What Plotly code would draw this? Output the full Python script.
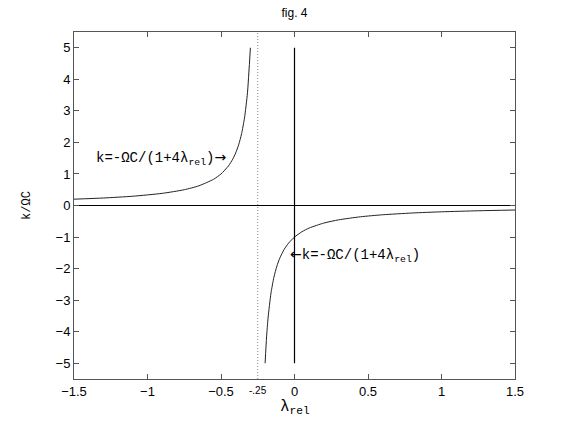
import plotly.graph_objects as go

# left branch (lambda < -0.25)
lam_left = [-1.5, -1.3, -1.1, -0.9, -0.75, -0.65, -0.55, -0.5, -0.45, -0.42, -0.4, -0.38, -0.36, -0.34, -0.32, -0.3]
k_left = [0.2, 0.238, 0.294, 0.385, 0.5, 0.625, 0.833, 1.0, 1.25, 1.47, 1.667, 1.923, 2.273, 2.778, 3.571, 5.0]
# right branch (lambda > -0.25)
lam_right = [-0.2, -0.19, -0.18, -0.16, -0.14, -0.12, -0.1, -0.07, -0.04, 0.0, 0.05, 0.1, 0.2, 0.3, 0.45, 0.6, 0.8, 1.0, 1.25, 1.5]
k_right = [-5.0, -4.167, -3.571, -2.778, -2.273, -1.923, -1.667, -1.389, -1.19, -1.0, -0.833, -0.714, -0.556, -0.455, -0.357, -0.294, -0.238, -0.2, -0.167, -0.143]

# reference lines
zero_x = [-1.5, 1.5]
zero_y = [0, 0]
vert_x = [0, 0]
vert_y = [-5, 5]
asym_x = [-0.25, -0.25]
asym_y = [-5.5, 5.5]

x_ticks = [-1.5, -1, -0.5, 0, 0.5, 1, 1.5]
x_ticktext = ["\u22121.5", "\u22121", "\u22120.5", "0", "0.5", "1", "1.5"]
y_ticks = [-5, -4, -3, -2, -1, 0, 1, 2, 3, 4, 5]
y_ticktext = [("\u2212" + str(-v)) if v < 0 else str(v) for v in y_ticks]

fig = go.Figure()
line_col = "#222222"
fig.add_trace(go.Scatter(x=lam_left, y=k_left, mode="lines",
                         line=dict(color=line_col, width=1, shape="spline", smoothing=0.6)))
fig.add_trace(go.Scatter(x=lam_right, y=k_right, mode="lines",
                         line=dict(color=line_col, width=1, shape="spline", smoothing=0.6)))
fig.add_trace(go.Scatter(x=zero_x, y=zero_y, mode="lines", line=dict(color="black", width=1.2)))
fig.add_trace(go.Scatter(x=vert_x, y=vert_y, mode="lines", line=dict(color="black", width=1.2)))
fig.add_trace(go.Scatter(x=asym_x, y=asym_y, mode="lines",
                         line=dict(color="#888888", width=1, dash="1px,2px")))

mono = "Liberation Mono, Courier New, monospace"
sans = "Liberation Sans, Arial, sans-serif"
fig.add_annotation(x=-0.45, y=1.5, xref="x", yref="y", xanchor="right", yanchor="middle",
                   text="k=-\u03a9C/(1+4\u03bb<sub>rel</sub>)<span style='font-family:DejaVu Sans'>\u2192</span>",
                   showarrow=False, font=dict(family=mono, size=14, color="black"))
fig.add_annotation(x=-0.045, y=-1.6, xref="x", yref="y", xanchor="left", yanchor="middle",
                   text="<span style='font-family:DejaVu Sans'>\u2190</span>k=-\u03a9C/(1+4\u03bb<sub>rel</sub>)",
                   showarrow=False, font=dict(family=mono, size=14, color="black"))
fig.add_annotation(x=-0.25, y=0, xref="x", yref="paper", xanchor="center", yanchor="top",
                   yshift=-4, text="-.25", showarrow=False,
                   font=dict(family=sans, size=10, color="black"))
# x-axis title
fig.add_annotation(x=0, y=0, xref="x", yref="paper", xanchor="center", yanchor="top",
                   yshift=-17, text="\u03bb<sub>rel</sub>", showarrow=False,
                   font=dict(family=mono, size=16, color="black"))

axis_common = dict(showline=True, linecolor="#555555", linewidth=1, mirror="ticks",
                   ticks="inside", ticklen=5, tickcolor="#555555", showgrid=False,
                   zeroline=False, tickfont=dict(family=sans, size=13, color="black"))

fig.update_layout(
    width=568, height=427,
    margin=dict(l=74, r=53, t=32, b=48),
    paper_bgcolor="white", plot_bgcolor="white",
    showlegend=False,
    title=dict(text="fig. 4", x=0.5185, xanchor="center", y=0.971, yanchor="middle",
               font=dict(family=sans, size=12, color="black")),
    xaxis=dict(range=[-1.5, 1.5], tickvals=x_ticks, ticktext=x_ticktext, **axis_common),
    yaxis=dict(range=[-5.5, 5.5], tickvals=y_ticks, ticktext=y_ticktext,
               title=dict(text="k/\u03a9C", standoff=22,
                          font=dict(family=mono, size=12, color="black")),
               **axis_common),
)

fig.write_html("out.html", config={"displayModeBar": False},
               post_script="document.body.style.margin='0px';")
